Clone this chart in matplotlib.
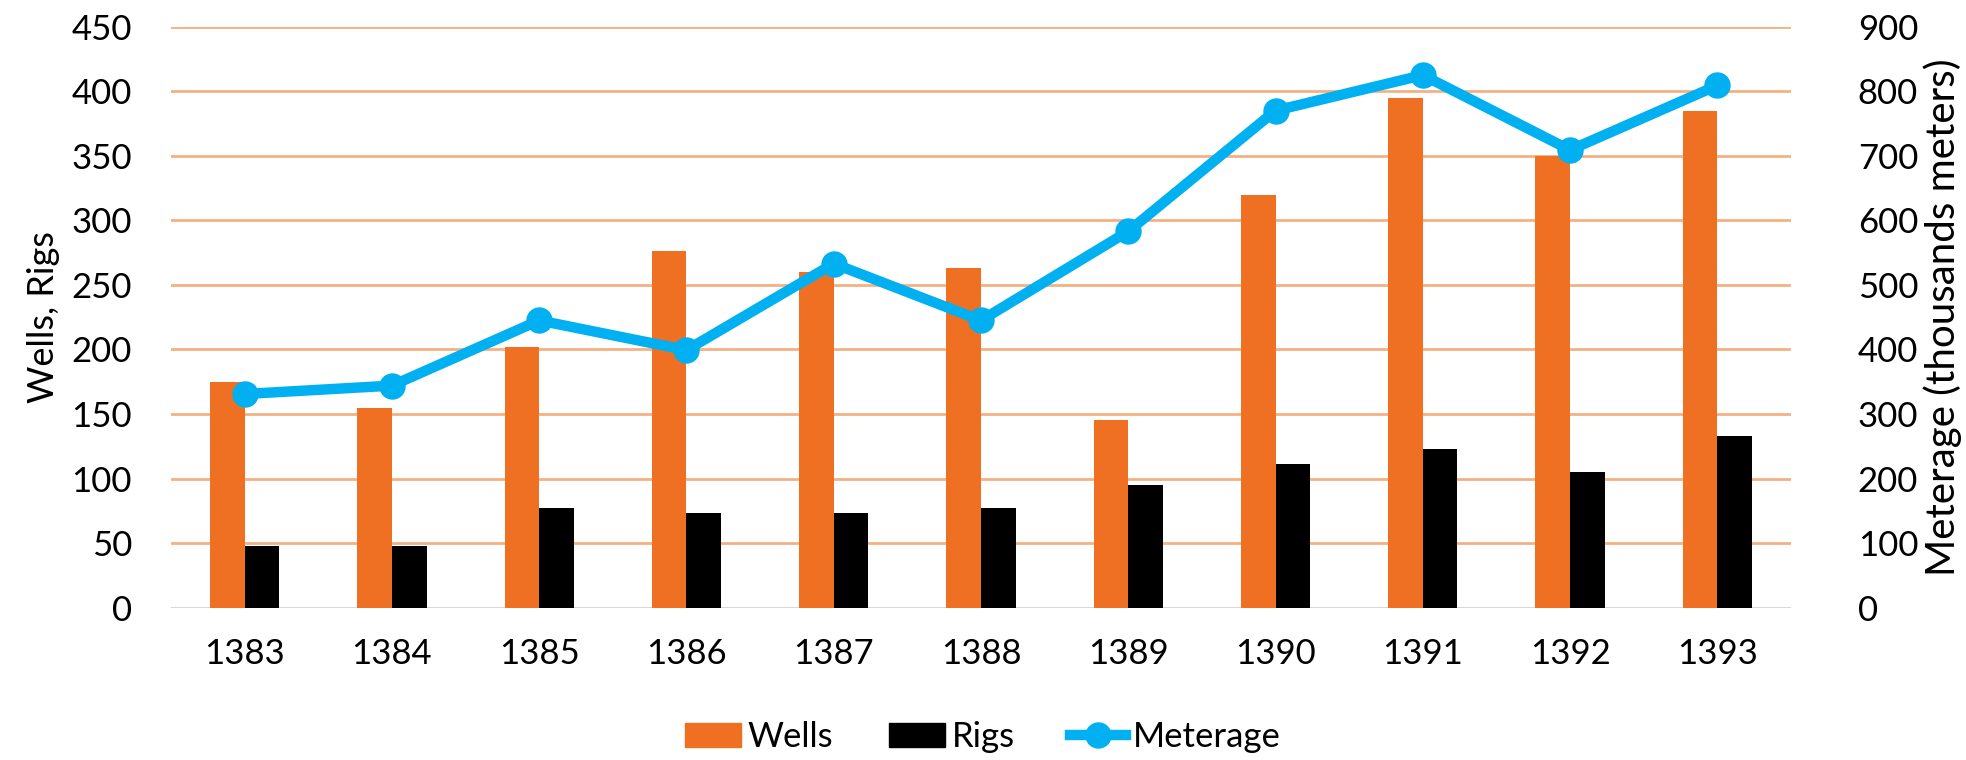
import numpy as np
import matplotlib.pyplot as plt
from matplotlib.lines import Line2D
from matplotlib.patches import Patch

years = ["1383", "1384", "1385", "1386", "1387", "1388", "1389", "1390", "1391", "1392", "1393"]
wells = [175, 155, 202, 276, 260, 263, 145, 320, 395, 350, 385]
rigs = [48, 48, 77, 73, 73, 77, 95, 111, 123, 105, 133]
meterage = [331, 344, 445, 399, 533, 445, 583, 770, 825, 709, 809]

plt.rcParams['font.family'] = ['Lato', 'DejaVu Sans']
FS = 25

fig = plt.figure(figsize=(19.66, 7.6), dpi=100)
ax = fig.add_axes([171/1966, 1-607.7/760, 1620/1966, 581/760])
ax2 = ax.twinx()

x = np.arange(len(years))
w = 0.235
ax.bar(x - w/2, wells, w, color="#F07023", zorder=3)
ax.bar(x + w/2, rigs, w, color="#000000", zorder=3)
ax2.plot(x, meterage, color="#00B0F0", lw=7.5, marker="o", ms=18, zorder=4)

ax.set_xlim(-0.5, len(years) - 0.5)
ax.set_ylim(0, 450)
ax2.set_ylim(0, 900)
ax.set_yticks(np.arange(0, 451, 50))
ax2.set_yticks(np.arange(0, 901, 100))
ax.set_xticks(x)
ax.set_xticklabels(years)

ax.grid(axis="y", color="#F4B183", lw=2, zorder=0)
ax.set_axisbelow(True)
for a in (ax, ax2):
    for s in ("top", "left", "right", "bottom"):
        a.spines[s].set_visible(False)
    a.tick_params(length=0, labelsize=FS)
ax.axhline(0, color="#D9D9D9", lw=2, zorder=2)
ax.tick_params(axis="y", pad=28)
ax.tick_params(axis="x", pad=22)
ax2.tick_params(axis="y", pad=48)

ax.set_ylabel("Wells, Rigs", fontsize=FS + 1, labelpad=8)
ax2.set_ylabel("Meterage (thousands meters)", fontsize=FS + 4, labelpad=4)

handles = [Patch(color="#F07023", label="Wells"),
           Patch(color="#000000", label="Rigs"),
           Line2D([], [], color="#00B0F0", lw=7.5, marker="o", ms=18, label="Meterage")]
fig.legend(handles=handles, loc="center", bbox_to_anchor=(0.5, 1-737/760), ncol=3,
           frameon=False, fontsize=FS, handlelength=1.6, handletextpad=0.2, columnspacing=1.6)

fig.savefig("out.png", dpi=100)
